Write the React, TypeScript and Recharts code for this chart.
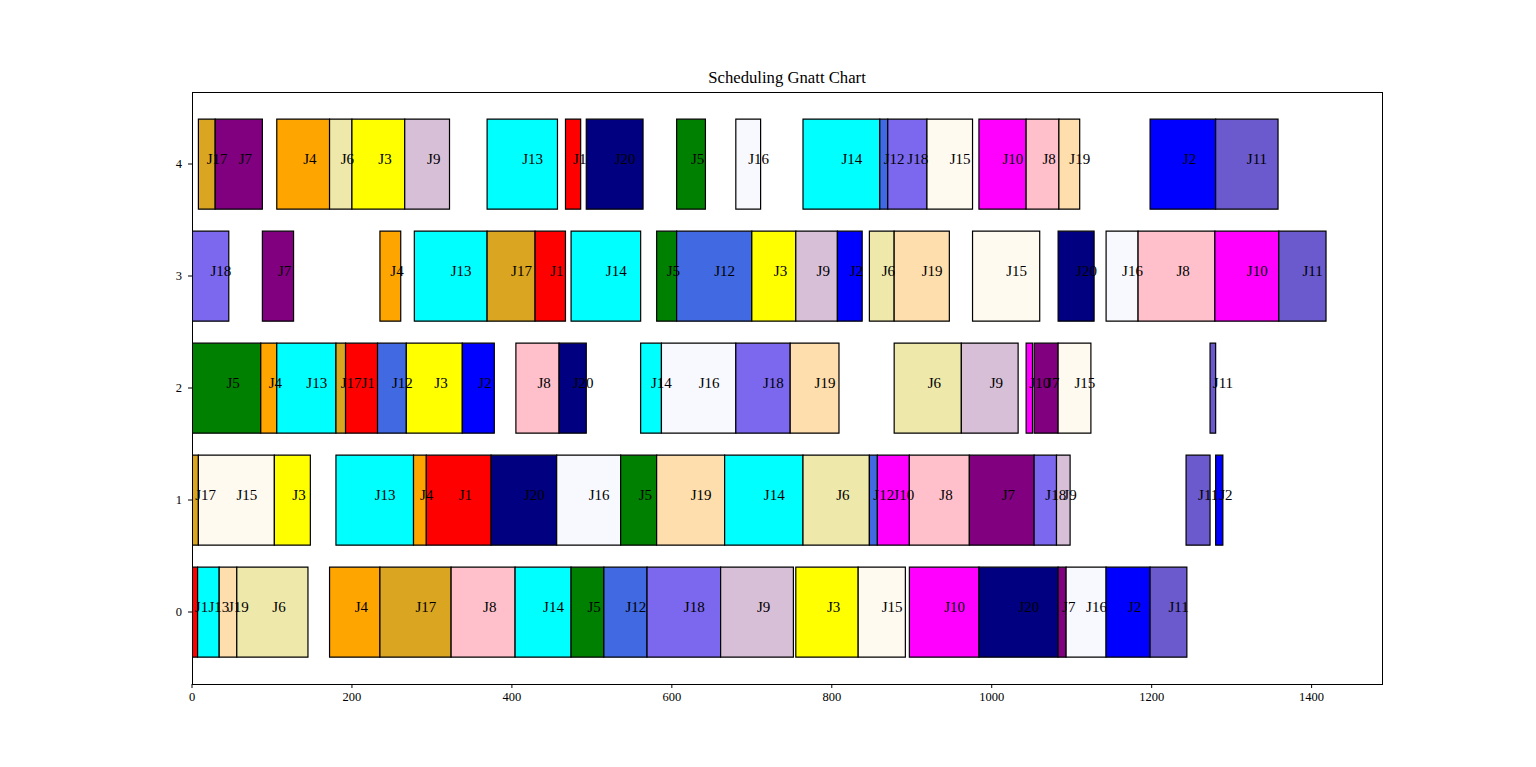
import React from 'react';
import { BarChart, Bar, XAxis, YAxis, Cell, LabelList } from 'recharts';

type Seg = [string, number, number];

// machine labels, top to bottom
const machineLabels = ['4', '3', '2', '1', '0'];

const machine0: Seg[] = [
  ['J1', 0, 7], ['J13', 7, 34], ['J19', 34, 56], ['J6', 56, 145], ['J4', 172, 235],
  ['J17', 235, 324], ['J8', 324, 404], ['J14', 404, 474], ['J5', 474, 515], ['J12', 515, 569],
  ['J18', 569, 661], ['J9', 661, 752], ['J3', 755, 833], ['J15', 833, 892], ['J10', 897, 984],
  ['J20', 984, 1083], ['J7', 1083, 1093], ['J16', 1093, 1143], ['J2', 1143, 1198], ['J11', 1198, 1244],
];

const machine1: Seg[] = [
  ['J17', 0, 8], ['J15', 8, 103], ['J3', 103, 148], ['J13', 180, 277], ['J4', 277, 293],
  ['J1', 293, 374], ['J20', 374, 456], ['J16', 456, 536], ['J5', 536, 581], ['J19', 581, 666],
  ['J14', 666, 764], ['J6', 764, 847], ['J12', 847, 857], ['J10', 857, 897], ['J8', 897, 972],
  ['J7', 972, 1053], ['J18', 1053, 1081], ['J9', 1081, 1098], ['J11', 1243, 1273], ['J2', 1280, 1289],
];

const machine2: Seg[] = [
  ['J5', 0, 86], ['J4', 86, 106], ['J13', 106, 180], ['J17', 180, 192], ['J1', 192, 232],
  ['J12', 232, 268], ['J3', 268, 338], ['J2', 338, 378], ['J8', 405, 459], ['J20', 459, 493],
  ['J14', 561, 587], ['J16', 587, 680], ['J18', 680, 748], ['J19', 748, 809], ['J6', 878, 962],
  ['J9', 962, 1033], ['J10', 1043, 1051], ['J7', 1053, 1083], ['J15', 1083, 1124], ['J11', 1273, 1280],
];

const machine3: Seg[] = [
  ['J18', 0, 46], ['J7', 88, 127], ['J4', 235, 261], ['J13', 278, 369], ['J17', 369, 429],
  ['J1', 429, 467], ['J14', 474, 561], ['J5', 581, 606], ['J12', 606, 700], ['J3', 700, 755],
  ['J9', 755, 807], ['J2', 807, 838], ['J6', 847, 878], ['J19', 878, 947], ['J15', 976, 1060],
  ['J20', 1083, 1128], ['J16', 1143, 1183], ['J8', 1183, 1279], ['J10', 1279, 1359], ['J11', 1359, 1418],
];

const machine4: Seg[] = [
  ['J17', 8, 29], ['J7', 29, 88], ['J4', 106, 172], ['J6', 172, 200], ['J3', 200, 266],
  ['J9', 266, 322], ['J13', 369, 457], ['J1', 467, 486], ['J20', 493, 564], ['J5', 606, 642],
  ['J16', 680, 711], ['J14', 764, 860], ['J12', 860, 870], ['J18', 870, 919], ['J15', 919, 976],
  ['J10', 984, 1043], ['J8', 1043, 1084], ['J19', 1084, 1110], ['J2', 1198, 1280], ['J11', 1280, 1358],
];

const jobColors: Record<string, string> = {
  J1: '#ff0000', J2: '#0000ff', J3: '#ffff00', J4: '#ffa500', J5: '#008000',
  J6: '#eee8aa', J7: '#800080', J8: '#ffc0cb', J9: '#d8bfd8', J10: '#ff00ff',
  J11: '#6a5acd', J12: '#4169e1', J13: '#00ffff', J14: '#00ffff', J15: '#fffaf0',
  J16: '#f8f8ff', J17: '#daa520', J18: '#7b68ee', J19: '#ffdead', J20: '#000080',
};

const xTicks = [0, 200, 400, 600, 800, 1000, 1200, 1400];
const xMax = 1488;
const title = 'Scheduling Gnatt Chart';

const schedules = [machine4, machine3, machine2, machine1, machine0];
const SEG = Math.max(...schedules.map((s) => s.length));

const rows = schedules.map((segs, r) => {
  const row: Record<string, any> = { machine: machineLabels[r] };
  let prev = 0;
  for (let i = 0; i < SEG; i++) {
    const s = segs[i];
    if (s) {
      row['g' + i] = s[1] - prev;
      row['d' + i] = s[2] - s[1];
      row['j' + i] = s[0];
      prev = s[2];
    } else {
      row['g' + i] = 0;
      row['d' + i] = 0;
      row['j' + i] = '';
    }
  }
  return row;
});

const FONT = '"Liberation Serif", "Times New Roman", serif';

const renderLabel = (props: any) => {
  const { x, y, width, height, value } = props;
  if (!value) return null;
  return (
    <text
      x={Number(x) + Number(width) / 2}
      y={Number(y) + Number(height) / 2}
      textAnchor="start"
      fontFamily={FONT}
      fontSize={15}
      fill="#000"
    >
      {value}
    </text>
  );
};

export default function App() {
  return (
    <div style={{ position: 'absolute', left: 0, top: 0, width: 1536, height: 767, background: '#fff' }}>
      <div
        style={{
          position: 'absolute', left: 192, top: 69, width: 1190, textAlign: 'center',
          fontFamily: FONT, fontSize: 16.7, lineHeight: '18px', color: '#000',
        }}
      >
        {title}
      </div>
      <BarChart
        width={1536}
        height={767}
        data={rows}
        layout="vertical"
        barCategoryGap="10%"
        margin={{ top: 92, right: 154, bottom: 53, left: 152 }}
      >
        <XAxis
          type="number"
          domain={[0, xMax]}
          ticks={xTicks}
          allowDataOverflow
          height={30}
          stroke="#000"
          axisLine={false}
          tickLine={{ stroke: '#000' }}
          tickSize={4}
          tickMargin={4}
          tick={{ fill: '#000', fontFamily: FONT, fontSize: 12.5 }}
        />
        <YAxis
          type="category"
          dataKey="machine"
          width={40}
          stroke="#000"
          padding={{ top: 16, bottom: 16 }}
          axisLine={false}
          tickLine={{ stroke: '#000' }}
          tickSize={4}
          tickMargin={6}
          tick={{ fill: '#000', fontFamily: FONT, fontSize: 12.5 }}
        />
        {Array.from({ length: SEG }).flatMap((_, i) => [
          <Bar key={'g' + i} dataKey={'g' + i} stackId="s" fill="none" stroke="none" isAnimationActive={false} />,
          <Bar key={'d' + i} dataKey={'d' + i} stackId="s" stroke="#000" strokeWidth={1.2} isAnimationActive={false}>
            {rows.map((r, k) => (
              <Cell key={k} fill={jobColors[r['j' + i]] || 'none'} />
            ))}
            <LabelList dataKey={'j' + i} content={renderLabel} />
          </Bar>,
        ])}
      </BarChart>
      <div
        style={{
          position: 'absolute', left: 192, top: 92, width: 1191, height: 593,
          boxSizing: 'border-box', border: '1px solid #000', pointerEvents: 'none',
        }}
      />
    </div>
  );
}
